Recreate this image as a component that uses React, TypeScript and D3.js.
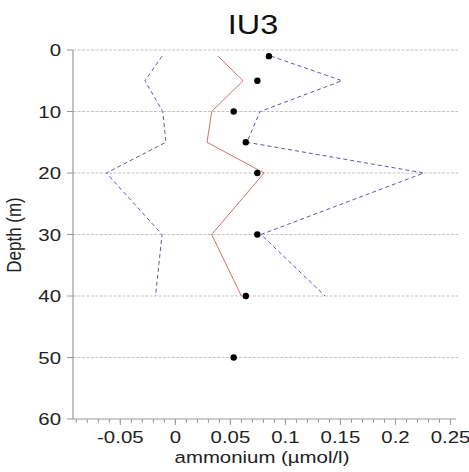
import React from "react";
import * as d3 from "d3";

const title = "IU3";
const xLabel = "ammonium (µmol/l)";
const yLabel = "Depth (m)";

const lineDepths = [1, 5, 10, 15, 20, 30, 40];
const medianValues = [0.0388, 0.0615, 0.033, 0.0288, 0.0806, 0.033, 0.06];
const lowerValues = [-0.0121, -0.0276, -0.0115, -0.0085, -0.0627, -0.0121, -0.018];
const upperValues = [0.087, 0.1515, 0.077, 0.065, 0.2258, 0.0778, 0.136];

const dotDepths = [1, 5, 10, 15, 20, 30, 40, 50];
const dotValues = [0.085, 0.0745, 0.053, 0.064, 0.0745, 0.0745, 0.064, 0.053];

const xMajorTicks = [-0.05, 0, 0.05, 0.1, 0.15, 0.2, 0.25];
const xTickLabels = ["-0.05", "0", "0.05", "0.1", "0.15", "0.2", "0.25"];
const yTicks = [0, 10, 20, 30, 40, 50, 60];

const W = 469;
const H = 472;
const SX = 1.2;
const FONT = "'Liberation Sans', Arial, sans-serif";

export default function App() {
  const x = d3.scaleLinear().domain([-0.093, 0.255]).range([73, 456]);
  const y = d3.scaleLinear().domain([0, 60]).range([50, 419]);
  const x0 = x.range()[0];
  const yBottom = y(60);

  const line = d3
    .line<[number, number]>()
    .x((d) => x(d[0]))
    .y((d) => y(d[1]));

  const med = line(medianValues.map((v, i) => [v, lineDepths[i]]));
  const low = line(lowerValues.map((v, i) => [v, lineDepths[i]]));
  const up = line(upperValues.map((v, i) => [v, lineDepths[i]]));

  const minorTicks = d3.range(-9, 26).map((i) => i / 100);

  return (
    <svg
      width={W}
      height={H}
      style={{ position: "absolute", left: 0, top: 0, background: "#fff" }}
      fontFamily={FONT}
    >
      <rect width={W} height={H} fill="#fff" />
      {/* title */}
      <text
        transform={`translate(253,34) scale(${SX},1)`}
        textAnchor="middle"
        fontSize={27}
        fill="#111"
      >
        {title}
      </text>

      {/* gridlines */}
      {yTicks.slice(0, 6).map((t) => (
        <line
          key={"g" + t}
          x1={x0}
          x2={458}
          y1={y(t)}
          y2={y(t)}
          stroke="#c4c4c4"
          strokeWidth={1.2}
          strokeDasharray="3,1.5"
        />
      ))}

      {/* axes */}
      <line x1={x0} x2={x0} y1={y(0)} y2={yBottom} stroke="#9a9a9a" strokeWidth={1.2} />
      <line x1={x0} x2={456} y1={yBottom} y2={yBottom} stroke="#9a9a9a" strokeWidth={1.2} />

      {yTicks.map((t) => (
        <g key={"y" + t}>
          <line x1={x0 - 6} x2={x0} y1={y(t)} y2={y(t)} stroke="#9a9a9a" strokeWidth={1} />
          <text
            transform={`translate(61,${y(t) + 6}) scale(${SX},1)`}
            textAnchor="end"
            fontSize={17}
            fill="#222"
          >
            {t}
          </text>
        </g>
      ))}

      {minorTicks.map((t) => (
        <line
          key={"m" + t}
          x1={x(t)}
          x2={x(t)}
          y1={yBottom}
          y2={yBottom + 4}
          stroke="#9a9a9a"
          strokeWidth={1}
        />
      ))}
      {xMajorTicks.map((t, i) => (
        <g key={"x" + t}>
          <line x1={x(t)} x2={x(t)} y1={yBottom} y2={yBottom + 6} stroke="#9a9a9a" strokeWidth={1} />
          <text
            transform={`translate(${x(t)},443) scale(${SX},1)`}
            textAnchor="middle"
            fontSize={17}
            fill="#222"
          >
            {xTickLabels[i]}
          </text>
        </g>
      ))}

      <text
        transform={`translate(262,463) scale(${SX},1)`}
        textAnchor="middle"
        fontSize={17}
        fill="#222"
      >
        {xLabel}
      </text>
      <text
        transform={`translate(21,235) rotate(-90) scale(1,${SX})`}
        textAnchor="middle"
        fontSize={17}
        fill="#222"
      >
        {yLabel}
      </text>

      {/* series */}
      <path d={low || ""} fill="none" stroke="#5a5aa8" strokeWidth={1} strokeDasharray="4,3" />
      <path d={up || ""} fill="none" stroke="#5a5aa8" strokeWidth={1} strokeDasharray="4,3" />
      <path d={med || ""} fill="none" stroke="#cc7272" strokeWidth={1} />
      {dotValues.map((v, i) => (
        <circle key={"d" + i} cx={x(v)} cy={y(dotDepths[i])} r={3.2} fill="#000" />
      ))}
    </svg>
  );
}
